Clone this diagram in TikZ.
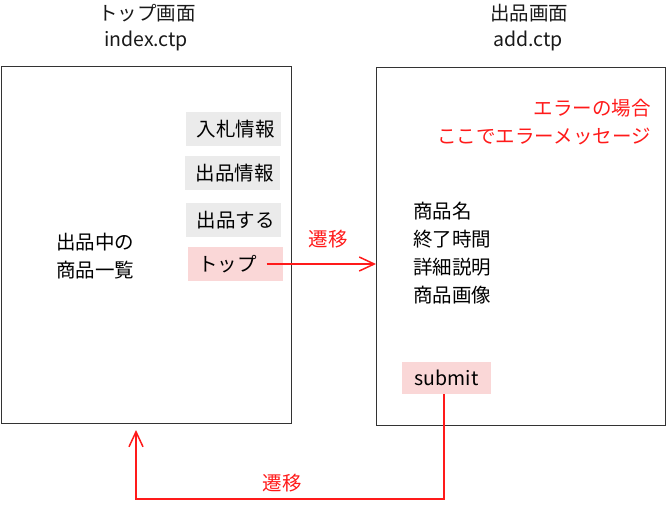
\documentclass[tikz,border=0pt]{standalone}
\usepackage{fontspec}
\newfontfamily\jpfont{Noto Sans CJK JP}
\usetikzlibrary{arrows.meta}
\definecolor{btngray}{HTML}{EBEBEB}
\definecolor{btnpink}{HTML}{FAD7D7}
\definecolor{linkred}{HTML}{FF1A1A}
\definecolor{frame}{HTML}{333333}
\begin{document}
\begin{tikzpicture}[x=1pt,y=-1pt,
  font=\jpfont\fontsize{19.5}{27.8}\selectfont,
  screen/.style={draw=frame, line width=1pt, inner sep=0pt, anchor=north west},
  title/.style={inner sep=0pt, text=black!90},
  btn/.style={fill=btngray, text width=74pt, align=left, inner xsep=10.5pt,
    inner ysep=0pt, minimum height=34pt},
  hotbtn/.style={btn, fill=btnpink},
  flow/.style={draw=linkred, line width=1.5pt,
    -{Straight Barb[length=15pt, width=14pt, line width=1.5pt]}},
  flowlabel/.style={text=linkred, inner sep=0pt},
  note/.style={inner sep=0pt, align=left, anchor=west}]
\useasboundingbox (0,0) rectangle (668,504);

% screen frames
\node[screen, minimum width=290pt, minimum height=357pt] (index) at (1,66) {};
\node[screen, minimum width=289pt, minimum height=358pt] (add) at (376,67) {};

% screen titles
\node[title] (indexname) at (147,13) {トップ画面};
\node[title] (indexfile) at (146,41) {index.ctp};
\node[title] (addname) at (529,13) {出品画面};
\node[title] (addfile) at (528,41) {add.ctp};

% top page: menu buttons and listing
\node[btn] (bid) at (233.5,129) {入札情報};
\node[btn] (listing) at (232.5,173) {出品情報};
\node[btn] (sell) at (233.5,220) {出品する};
\node[hotbtn] (toplink) at (235,264) {トップ};
\node[note] (items) at (56,256) {出品中の\\商品一覧};

% listing page: error message area, fields and submit
\node[inner sep=0pt, align=right, anchor=east, text=linkred] (errmsg) at (651,122)
  {エラーの場合\\ここでエラーメッセージ};
\node[note] (fields) at (413,253) {商品名\\終了時間\\詳細説明\\商品画像};
\node[fill=btnpink, minimum width=89pt, minimum height=32pt, inner sep=0pt]
  (submit) at (446.5,378) {submit};

% transitions
\draw[flow] ([xshift=-16pt]toplink.east) -- (toplink.east -| add.west);
\node[flowlabel] (go1) at (328,239) {遷移};

\coordinate (drop) at (444,499);
\coordinate (turn) at (136,499);
\coordinate (back) at (136,430);
\draw[flow] (submit.south -| drop) -- (drop) -- (turn) -- (back);
\node[flowlabel] (go2) at (282,483) {遷移};
\end{tikzpicture}
\end{document}
